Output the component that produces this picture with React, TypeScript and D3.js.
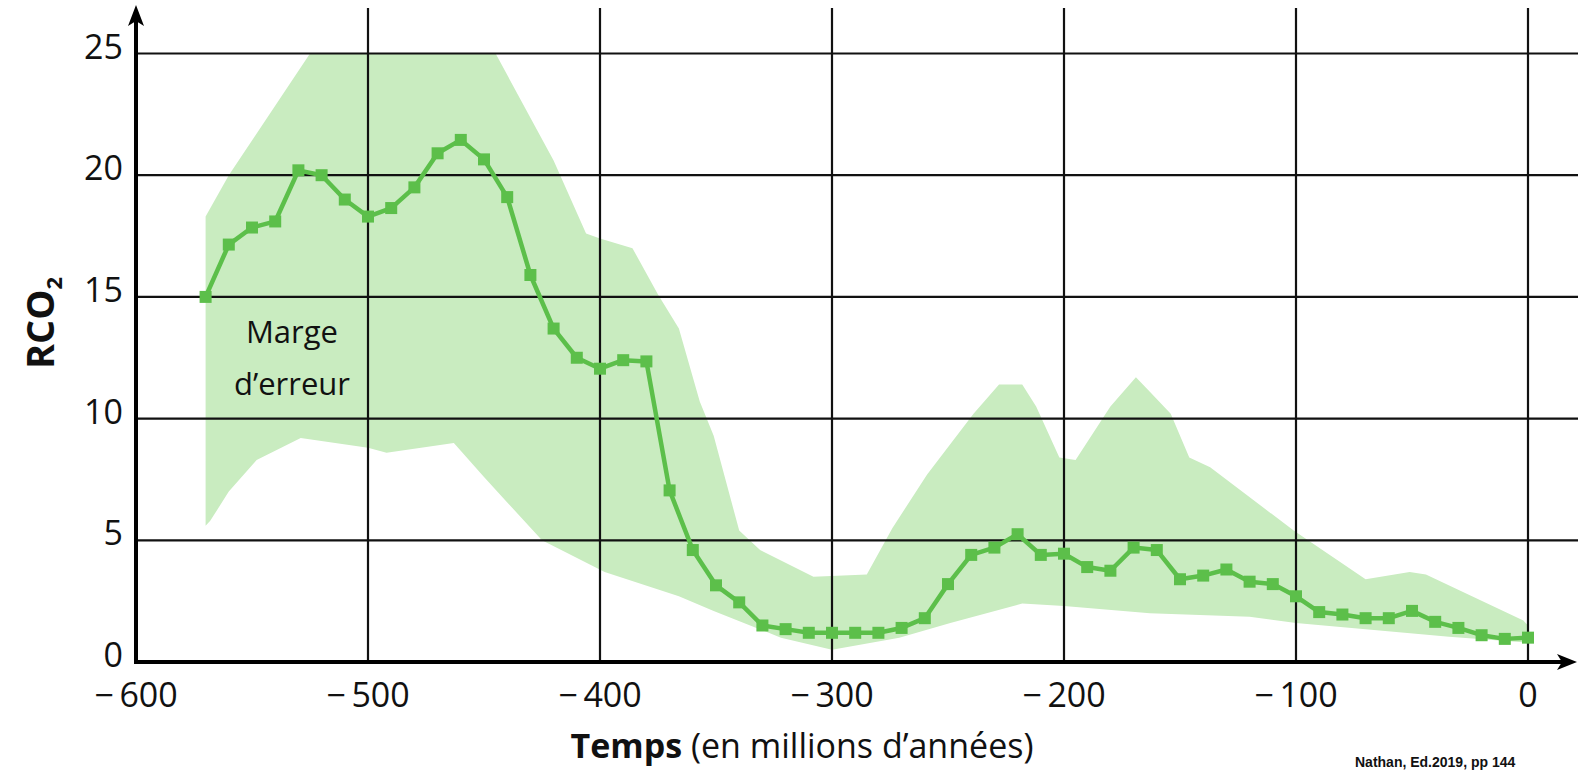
import React from "react";
import * as d3 from "d3";

const years = d3.range(-570, 1, 10);
const rco2 = [
  15.0, 17.15, 17.85, 18.1, 20.2, 20.0, 19.0, 18.3, 18.65, 19.5,
  20.9, 21.45, 20.65, 19.1, 15.9, 13.7, 12.5, 12.05, 12.4, 12.35,
  7.05, 4.6, 3.15, 2.45, 1.5, 1.35, 1.2, 1.2, 1.2, 1.2,
  1.4, 1.8, 3.2, 4.4, 4.7, 5.25, 4.4, 4.45, 3.9, 3.75,
  4.7, 4.6, 3.4, 3.55, 3.8, 3.3, 3.2, 2.7, 2.05, 1.95,
  1.8, 1.8, 2.1, 1.65, 1.4, 1.1, 0.95, 1.0,
];

const upperYears = [-570, -560, -525, -445, -420, -406, -400, -386, -375, -366, -357, -351, -340, -331, -308, -285, -274, -259, -239, -228, -218, -212, -202, -195, -180, -169, -163, -154, -146, -137, -101, -70, -51, -44, -2, 0];
const upperVals = [18.3, 20.0, 25, 25, 20.6, 17.6, 17.4, 17.0, 15.1, 13.7, 10.7, 9.3, 5.4, 4.6, 3.5, 3.6, 5.5, 7.7, 10.2, 11.4, 11.4, 10.5, 8.4, 8.3, 10.5, 11.7, 11.1, 10.2, 8.4, 8.0, 5.4, 3.4, 3.7, 3.6, 1.7, 1.5];

const lowerYears = [-570, -568, -560, -548, -529, -500, -492, -463, -450, -425, -398, -366, -351, -322, -300, -271, -249, -218, -200, -163, -120, -100, -34, 0];
const lowerVals = [5.6, 5.8, 7.0, 8.3, 9.2, 8.8, 8.6, 9.0, 7.6, 5.0, 3.7, 2.7, 2.1, 1.0, 0.5, 1.0, 1.6, 2.4, 2.3, 2.0, 1.86, 1.6, 1.04, 0.8];

const xTicks = [-600, -500, -400, -300, -200, -100, 0];
const yTicks = [0, 5, 10, 15, 20, 25];

const W = 1581;
const H = 772;
const FONT = "'Open Sans', 'Noto Sans', sans-serif";

export default function App() {
  const x = d3.scaleLinear().domain([-600, 0]).range([136, 1528]);
  const y = d3.scaleLinear().domain([0, 25]).range([662, 53.5]);

  const bandPts: [number, number][] = [
    ...upperYears.map((yr, i) => [yr, upperVals[i]] as [number, number]),
    ...lowerYears.map((yr, i) => [yr, lowerVals[i]] as [number, number]).reverse(),
  ];
  const bandPath = d3
    .line<[number, number]>()
    .x((d) => x(d[0]))
    .y((d) => y(d[1]))(bandPts) + "Z";

  const linePath = d3
    .line<number>()
    .x((_, i) => x(years[i]))
    .y((d) => y(d))(rco2);

  const green = "#5cbf4a";
  const band = "#c9ecc0";
  const ms = 12;
  const fmt = (v: number) => (v < 0 ? "\u2212\u2009" + Math.abs(v) : String(v));

  return (
    <svg
      width={W}
      height={H}
      style={{ position: "absolute", left: 0, top: 0, background: "#fff" }}
    >
      <path d={bandPath} fill={band} />

      {/* horizontal grid */}
      {yTicks.filter((t) => t > 0).map((t) => (
        <line key={"h" + t} x1={x(-600)} x2={1578} y1={y(t)} y2={y(t)} stroke="#111" strokeWidth={2.2} />
      ))}
      {/* vertical grid */}
      {xTicks.filter((t) => t > -600).map((t) => (
        <line key={"v" + t} x1={x(t)} x2={x(t)} y1={8} y2={y(0)} stroke="#111" strokeWidth={2.2} />
      ))}

      {/* axes */}
      <line x1={x(-600)} x2={x(-600)} y1={y(0) + 2} y2={18} stroke="#000" strokeWidth={4} />
      <path d={`M${x(-600)},5 L${x(-600) - 8},26 L${x(-600)},21 L${x(-600) + 8},26 Z`} fill="#000" />
      <line x1={x(-600) - 2} x2={1562} y1={y(0)} y2={y(0)} stroke="#000" strokeWidth={4} />
      <path d={`M1577,${y(0)} L1557,${y(0) - 8} L1562,${y(0)} L1557,${y(0) + 8} Z`} fill="#000" />

      {/* data line */}
      <path d={linePath!} fill="none" stroke={green} strokeWidth={4.5} strokeLinejoin="round" />
      {rco2.map((v, i) => (
        <rect key={i} x={x(years[i]) - ms / 2} y={y(v) - ms / 2} width={ms} height={ms} fill={green} />
      ))}

      {/* y tick labels */}
      {yTicks.map((t) => (
        <text key={"yl" + t} x={123} y={y(t) + 5} textAnchor="end" fontFamily={FONT} fontSize={34} fill="#111">
          {t}
        </text>
      ))}
      {/* x tick labels */}
      {xTicks.map((t) => (
        <text key={"xl" + t} x={x(t)} y={707} textAnchor="middle" fontFamily={FONT} fontSize={34} fill="#111">
          {fmt(t)}
        </text>
      ))}

      {/* annotation */}
      <text x={292} y={343} textAnchor="middle" fontFamily={FONT} fontSize={31} fill="#111">Marge</text>
      <text x={292} y={395} textAnchor="middle" fontFamily={FONT} fontSize={31} fill="#111">d’erreur</text>

      {/* y axis title */}
      <text
        transform={`translate(54,${323}) rotate(-90)`}
        textAnchor="middle"
        fontFamily={FONT}
        fontSize={38}
        fontWeight="bold"
        fill="#111"
      >
        RCO<tspan fontSize={22} dy={8}>2</tspan>
      </text>

      {/* x axis title */}
      <text x={802} y={758} textAnchor="middle" fontFamily={FONT} fontSize={34} fill="#111">
        <tspan fontWeight="bold">Temps</tspan> (en millions d’années)
      </text>

      {/* source */}
      <text x={1355} y={767} fontFamily="'Liberation Sans', Arial, sans-serif" fontSize={14} fontWeight="bold" fill="#111">
        Nathan, Ed.2019, pp 144
      </text>
    </svg>
  );
}
